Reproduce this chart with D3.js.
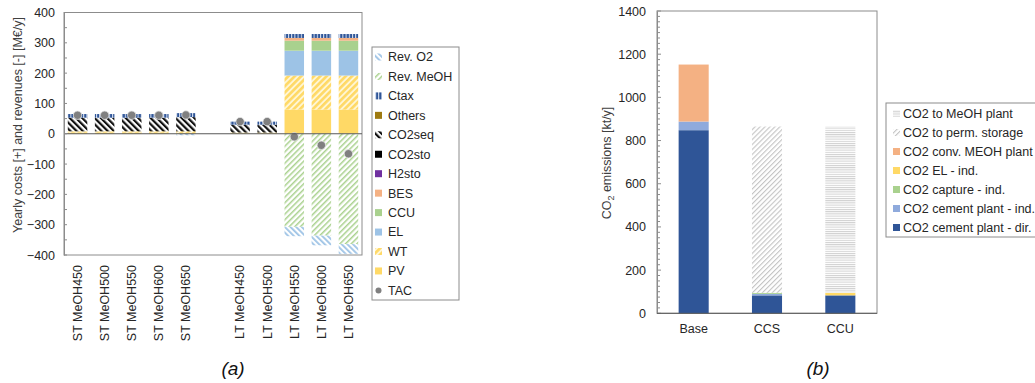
<!DOCTYPE html>
<html><head><meta charset="utf-8">
<script src="https://cdn.jsdelivr.net/npm/d3@7"></script>
<style>
html,body{margin:0;padding:0;background:#fff;}
svg{display:block;font-family:"Liberation Sans",Arial,sans-serif;}
</style></head>
<body><svg id="c" width="1035" height="383"></svg>
<script>
// ---------- Panel (a) data ----------
const stCats = ["ST MeOH450","ST MeOH500","ST MeOH550","ST MeOH600","ST MeOH650"];
const ltCats = ["LT MeOH450","LT MeOH500","LT MeOH550","LT MeOH600","LT MeOH650"];
const catsA = stCats.concat(ltCats);
const pv      = [4,4,4,4,3, 2,2, 80,80,80];
const wt      = [4,4,4,4,5, 2,2, 112,112,112];
const el      = [0,0,0,0,0, 0,0, 82,82,82];
const ccu     = [0,0,0,0,0, 0,0, 33,33,33];
const bes     = [0,0,0,0,0, 0,0, 9,9,9];
const h2sto   = [0,0,0,0,0, 0,0, 0,0,0];
const co2sto  = [0,0,0,0,0, 0,0, 0,0,0];
const co2seq  = [45,45,45,45,47, 26,26, 0,0,0];
const others  = [0,0,0,0,0, 0,0, 0,0,0];
const ctax    = [12,12,12,12,13, 10,10, 13,13,13];
const revMeoh = [0,0,0,0,0, 0,0, -307,-336,-364];
const revO2   = [0,0,0,0,-5, 0,0, -31,-32,-32];
const tac     = [61,61,61,61,62, 40,40, -10,-38,-66];
const yTicksA = [-400,-300,-200,-100,0,100,200,300,400];

// ---------- Panel (b) data ----------
const catsB = ["Base","CCS","CCU"];
const cementDir   = [848, 83, 83];
const cementInd   = [40, 7, 0];
const captureInd  = [0, 5, 0];
const elInd       = [0, 0, 12];
const convMeoh    = [264, 0, 0];
const permStorage = [0, 770, 0];
const toMeohPlant = [0, 0, 770];
const yTicksB = [0,200,400,600,800,1000,1200,1400];

const svg = d3.select("#c");
const defs = svg.append("defs");
function stripe(id, bg, fg, size, lw, angle){
  const p = defs.append("pattern").attr("id", id).attr("patternUnits","userSpaceOnUse")
    .attr("width", size).attr("height", size).attr("patternTransform", `rotate(${angle})`);
  p.append("rect").attr("width", size).attr("height", size).attr("fill", bg);
  p.append("rect").attr("width", lw).attr("height", size).attr("fill", fg);
}
stripe("pSeq", "#fff", "#111", 4.4, 2.2, -45);
stripe("pWT", "#fff6d5", "#ffd966", 4.5, 2.6, 45);
stripe("pMeoh", "#fff", "#a9d18e", 4, 1.5, 45);
stripe("pO2", "#fff", "#9dc3e6", 4, 1.8, -45);
stripe("pCtax", "#2f5597", "#dfe7f5", 3.2, 1, 0);
stripe("pPerm", "#fff", "#c4c4c4", 3.5, 1.1, 45);
stripe("pMeohPlant", "#fff", "#cfcfcf", 2.2, 1, 90);

// ================= Panel (a) =================
const A = {l:64, r:362, t:12.5, b:255};
const keysA = ["pv","wt","el","ccu","bes","h2sto","co2sto","co2seq","others","ctax","revMeoh","revO2"];
const fillA = {pv:"#ffd966", wt:"url(#pWT)", el:"#9dc3e6", ccu:"#a9d18e", bes:"#f4b183",
  h2sto:"#7030a0", co2sto:"#000", co2seq:"url(#pSeq)", others:"#9e7a10", ctax:"url(#pCtax)",
  revMeoh:"url(#pMeoh)", revO2:"url(#pO2)"};
const arrsA = {pv, wt, el, ccu, bes, h2sto, co2sto, co2seq, others, ctax, revMeoh, revO2};
const rowsA = catsA.map((c,i)=>{const r={cat:c}; keysA.forEach(k=>r[k]=arrsA[k][i]); r.tac=tac[i]; return r;});

const xA = d3.scaleBand().domain(stCats.concat(["gap"], ltCats)).range([A.l, A.r])
  .paddingInner(0.28).paddingOuter(0.14);
const yA = d3.scaleLinear().domain([-400,400]).range([A.b, A.t]);

// frame
svg.append("rect").attr("x",A.l).attr("y",A.t).attr("width",A.r-A.l).attr("height",A.b-A.t)
  .attr("fill","none").attr("stroke","#8c8c8c").attr("stroke-width",1);

const stackA = d3.stack().keys(keysA).offset(d3.stackOffsetDiverging)(rowsA);
const gA = svg.append("g");
stackA.forEach(s=>{
  gA.selectAll(null).data(s).enter().append("rect")
    .attr("x", d=>xA(d.data.cat)).attr("width", xA.bandwidth())
    .attr("y", d=>yA(Math.max(d[0],d[1])))
    .attr("height", d=>Math.abs(yA(d[0])-yA(d[1])))
    .attr("fill", fillA[s.key]);
});
// zero line
svg.append("line").attr("x1",A.l).attr("x2",A.r).attr("y1",yA(0)).attr("y2",yA(0))
  .attr("stroke","#595959").attr("stroke-width",1.2);
// TAC dots
gA.selectAll(null).data(rowsA).enter().append("circle")
  .attr("cx", d=>xA(d.cat)+xA.bandwidth()/2).attr("cy", d=>yA(d.tac)).attr("r",4.2)
  .attr("fill","#808080").attr("stroke","#e6e6e6").attr("stroke-width",0.8);

// y axis a
const axA = svg.append("g").attr("transform",`translate(${A.l},0)`)
  .call(d3.axisLeft(yA).tickValues(yTicksA).tickSize(0).tickPadding(9).tickFormat(d3.format("d")));
axA.select(".domain").attr("stroke","#8c8c8c");
axA.selectAll("text").attr("font-size","12.5px").attr("fill","#262626")
  .attr("font-family","'Liberation Sans',Arial,sans-serif");
svg.append("g").selectAll(null).data(d3.range(-400,401,50)).enter().append("line")
  .attr("x1",A.l).attr("x2",A.l+3).attr("y1",d=>yA(d)).attr("y2",d=>yA(d))
  .attr("stroke","#8c8c8c");
// x labels a
svg.append("g").selectAll(null).data(catsA).enter().append("text")
  .attr("transform", d=>`translate(${xA(d)+xA.bandwidth()/2},265) rotate(-90)`)
  .attr("text-anchor","end").attr("dy","0.35em").attr("font-size","12.5px").attr("fill","#262626")
  .text(d=>d);
// y title a
svg.append("text").attr("transform","translate(18,125) rotate(-90)").attr("text-anchor","middle")
  .attr("dy","0.35em").attr("font-size","12.5px").attr("fill","#404040")
  .text("Yearly costs [+] and revenues [-] [M€/y]");
svg.append("text").attr("x",233).attr("y",375).attr("text-anchor","middle").attr("font-size","19px")
  .attr("font-style","italic").attr("fill","#111").text("(a)");

// legend a
const legA = [["Rev. O2","revO2"],["Rev. MeOH","revMeoh"],["Ctax","ctax"],["Others","others"],
  ["CO2seq","co2seq"],["CO2sto","co2sto"],["H2sto","h2sto"],["BES","bes"],["CCU","ccu"],
  ["EL","el"],["WT","wt"],["PV","pv"],["TAC","tac"]];
svg.append("rect").attr("x",372).attr("y",47).attr("width",87).attr("height",253)
  .attr("fill","#fff").attr("stroke","#8c8c8c");
const lgA = svg.append("g").selectAll(null).data(legA).enter().append("g")
  .attr("transform",(d,i)=>`translate(375,${57+i*19.45})`);
lgA.each(function(d){
  const g = d3.select(this);
  if(d[1]==="tac") g.append("circle").attr("cx",3.5).attr("cy",0).attr("r",3).attr("fill","#808080");
  else g.append("rect").attr("x",0).attr("y",-3.5).attr("width",7).attr("height",7).attr("fill",fillA[d[1]]);
  g.append("text").attr("x",13).attr("dy","0.35em").attr("font-size","12.5px").attr("fill","#262626").text(d[0]);
});

// ================= Panel (b) =================
const B = {l:657, r:877, t:11, b:313.3};
const keysB = ["cementDir","cementInd","captureInd","elInd","convMeoh","permStorage","toMeohPlant"];
const arrsB = {cementDir, cementInd, captureInd, elInd, convMeoh, permStorage, toMeohPlant};
const fillB = {cementDir:"#2f5597", cementInd:"#8faadc", captureInd:"#a9d18e", elInd:"#ffd966",
  convMeoh:"#f4b183", permStorage:"url(#pPerm)", toMeohPlant:"url(#pMeohPlant)"};
const rowsB = catsB.map((c,i)=>{const r={cat:c}; keysB.forEach(k=>r[k]=arrsB[k][i]); return r;});
const xB = d3.scaleBand().domain(catsB).range([B.l,B.r]).paddingInner(0.59).paddingOuter(0.295);
const yB = d3.scaleLinear().domain([0,1400]).range([B.b,B.t]);

svg.append("rect").attr("x",B.l).attr("y",B.t).attr("width",B.r-B.l).attr("height",B.b-B.t)
  .attr("fill","none").attr("stroke","#8c8c8c");
const stackB = d3.stack().keys(keysB)(rowsB);
const gB = svg.append("g");
stackB.forEach(s=>{
  gB.selectAll(null).data(s).enter().append("rect")
    .attr("x", d=>xB(d.data.cat)).attr("width", xB.bandwidth())
    .attr("y", d=>yB(d[1])).attr("height", d=>yB(d[0])-yB(d[1]))
    .attr("fill", fillB[s.key]);
});
const axB = svg.append("g").attr("transform",`translate(${B.l},0)`)
  .call(d3.axisLeft(yB).tickValues(yTicksB).tickSize(0).tickPadding(11).tickFormat(d3.format("d")));
axB.select(".domain").attr("stroke","#8c8c8c");
axB.selectAll("text").attr("font-size","12.5px").attr("fill","#262626")
  .attr("font-family","'Liberation Sans',Arial,sans-serif");
svg.append("g").selectAll(null).data(d3.range(0,1401,25)).enter().append("line")
  .attr("x1",B.l).attr("x2",d=>B.l+(d%200===0?4:3)).attr("y1",d=>yB(d)).attr("y2",d=>yB(d))
  .attr("stroke","#8c8c8c");
svg.append("line").attr("x1",B.l).attr("x2",B.r).attr("y1",B.b).attr("y2",B.b).attr("stroke","#595959");
svg.append("g").selectAll(null).data(catsB).enter().append("text")
  .attr("x",d=>xB(d)+xB.bandwidth()/2).attr("y",333).attr("text-anchor","middle")
  .attr("font-size","12.5px").attr("fill","#262626").text(d=>d);
const tB = svg.append("text").attr("transform","translate(607,163) rotate(-90)").attr("text-anchor","middle")
  .attr("dy","0.35em").attr("font-size","12.5px").attr("fill","#404040");
tB.append("tspan").text("CO");
tB.append("tspan").attr("font-size","9px").attr("dy","3").text("2");
tB.append("tspan").attr("dy","-3").text(" emissions  [kt/y]");
svg.append("text").attr("x",818).attr("y",375).attr("text-anchor","middle").attr("font-size","19px")
  .attr("font-style","italic").attr("fill","#111").text("(b)");

// legend b
const legB = [["CO2 to MeOH plant","toMeohPlant"],["CO2 to perm. storage","permStorage"],
  ["CO2 conv. MEOH plant","convMeoh"],["CO2 EL - ind.","elInd"],["CO2 capture - ind.","captureInd"],
  ["CO2 cement plant - ind.","cementInd"],["CO2 cement plant - dir.","cementDir"]];
svg.append("rect").attr("x",886).attr("y",103).attr("width",160).attr("height",134)
  .attr("fill","#fff").attr("stroke","#8c8c8c");
const lgB = svg.append("g").selectAll(null).data(legB).enter().append("g")
  .attr("transform",(d,i)=>`translate(893,${113.5+i*19})`);
lgB.append("rect").attr("y",-3.5).attr("width",7).attr("height",7).attr("fill",d=>fillB[d[1]]);
lgB.append("text").attr("x",10).attr("dy","0.35em").attr("font-size","12.5px").attr("fill","#262626").text(d=>d[0]);
</script></body></html>
